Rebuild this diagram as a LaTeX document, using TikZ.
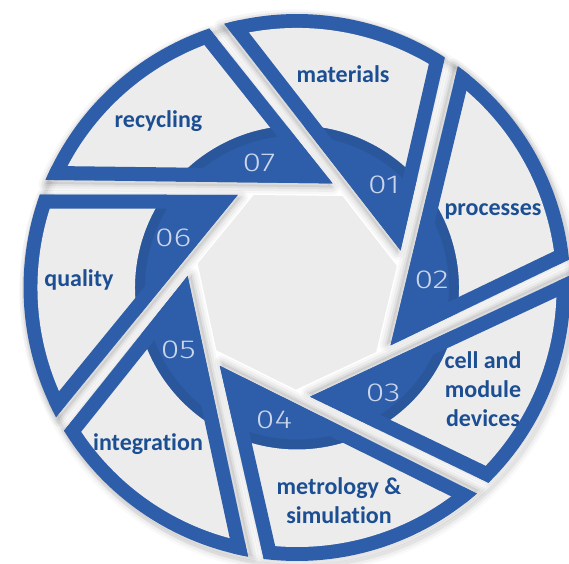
\documentclass[tikz,border=0pt]{standalone}
\usepackage{fontspec}
\setmainfont{Carlito}[Ligatures=NoCommon]
\IfFontExistsTF{Fira Sans Light}{\newfontfamily\numfont{Fira Sans Light}[FakeStretch=1.3]}{\newfontfamily\numfont{DejaVu Sans}[FakeStretch=1.2]}
\definecolor{bladeblue}{HTML}{2E5EA9}
\definecolor{panelgray}{HTML}{ECECEC}
\definecolor{labelblue}{HTML}{1B4E92}
\definecolor{numcol}{HTML}{CAD5EB}
\tikzset{
  bladeshape/.style={insert path={(0:110) -- (85.7:273.5) arc[start angle=85.7, end angle=37.6, radius=273.5] -- cycle}},
  lab/.style={font=\bfseries\fontsize{24}{29}\selectfont, text=labelblue, inner sep=0pt, align=center},
  num/.style={font=\numfont\fontsize{26}{26}\selectfont, text=numcol, inner sep=0pt},
  softshadow/.style={black, line join=round},
}
\begin{document}
\begin{tikzpicture}[x=1pt,y=1pt]
\useasboundingbox (-297,-275.5) rectangle (272,287.5);
\fill[white] (-297,-275.5) rectangle (272,287.5);
% rim shadow of the whole disk
\foreach \w/\o in {14/0.025,9/0.035,4/0.05}{
  \draw[black, opacity=\o, line width=\w pt] (3,-5) circle[radius=273.5];
}
% central heptagon
\fill[panelgray] (12.17:102.1) \foreach \k in {1,...,6}{ -- ({12.17-\k*360/7}:102.1)} -- cycle;
% blade shadows
\foreach \k in {1,...,7}{
  \begin{scope}[rotate={19.7-(\k-1)*360/7}]
    \begin{scope}[shift={(-3.8,-1.25)}]
      \fill[softshadow, opacity=0.07, bladeshape];
      \draw[softshadow, opacity=0.03, line width=14pt, bladeshape];
      \draw[softshadow, opacity=0.04, line width=9pt, bladeshape];
      \draw[softshadow, opacity=0.05, line width=4pt, bladeshape];
    \end{scope}
  \end{scope}
}
% blades
\foreach \k in {1,...,7}{
  \begin{scope}[rotate={19.7-(\k-1)*360/7}]
    \fill[bladeblue, bladeshape];
    \begin{scope}
      \clip[bladeshape];
      \draw[black, opacity=0.08, line width=10pt] (0,0) circle[radius=157];
      \fill[panelgray, even odd rule] (0,0) circle[radius=259.5] (0,0) circle[radius=162];
      \draw[bladeblue, line width=28pt] (85.7:273.5) -- (0:110) -- (37.6:273.5);
    \end{scope}
  \end{scope}
}
% numbers
\node[num] (n1) at (87,102.5) {01};
\node[num] (n2) at (134.7,7.5) {02};
\node[num] (n3) at (86.3,-105.2) {03};
\node[num] (n4) at (-23,-132.5) {04};
\node[num] (n5) at (-118.7,-62.5) {05};
\node[num] (n6) at (-123.7,49.2) {06};
\node[num] (n7) at (-38,124.2) {07};
% labels
\node[lab, anchor=base] (l1) at (46,204.8) {materials};
\node[lab, anchor=base] (l2) at (196,72.5) {processes};
\node[lab] (l3) at (186,-101.25) {cell and\\module\\devices};
\node[lab] (l4) at (42,-213.25) {metrology \&\\simulation};
\node[lab, anchor=base] (l5) at (-149,-162.5) {integration};
\node[lab, anchor=base] (l6) at (-218,1.5) {quality};
\node[lab, anchor=base] (l7) at (-138.5,159.8) {recycling};
\end{tikzpicture}
\end{document}
